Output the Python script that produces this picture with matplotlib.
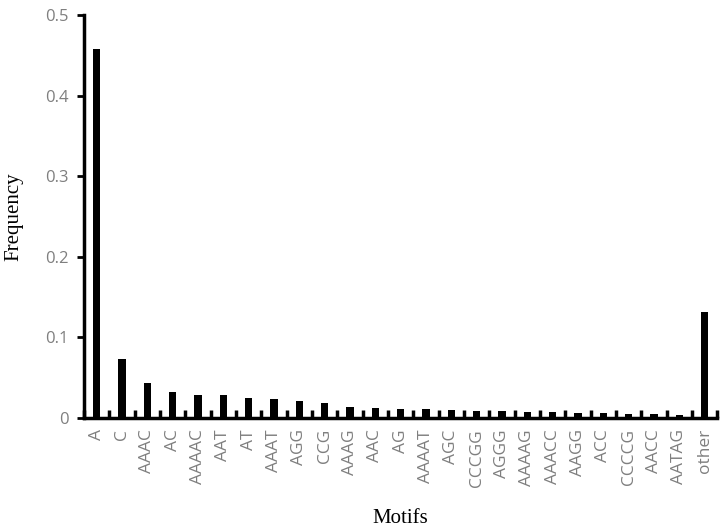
import matplotlib
matplotlib.use("Agg")
import matplotlib.pyplot as plt
import numpy as np

motifs = ["A", "C", "AAAC", "AC", "AAAAC", "AAT", "AT", "AAAT", "AGG", "CCG",
          "AAAG", "AAC", "AG", "AAAAT", "AGC", "CCCGG", "AGGG", "AAAAG", "AAACC",
          "AAGG", "ACC", "CCCCG", "AACC", "AATAG", "other"]
frequency = [0.458, 0.073, 0.043, 0.032, 0.029, 0.028, 0.025, 0.0236, 0.021, 0.019,
             0.0133, 0.012, 0.0115, 0.011, 0.0096, 0.0087, 0.0085, 0.008, 0.0075,
             0.006, 0.0058, 0.0055, 0.0045, 0.0043, 0.131]
yticks = [0, 0.1, 0.2, 0.3, 0.4, 0.5]
ytick_labels = ["0", "0.1", "0.2", "0.3", "0.4", "0.5"]

fig = plt.figure(figsize=(7.28, 5.28), dpi=100)
ax = fig.add_axes([0.1154, 0.2083, 0.870, 0.7633])

x = np.arange(len(motifs))
ax.bar(x, frequency, width=0.28, color="black")

ax.set_xlim(-0.5, len(motifs) - 0.5)
ax.set_ylim(0, 0.5)

ax.set_xticks(x)
ax.set_xticklabels(motifs, rotation=90, fontsize=12.5, color="#7f7f7f", family="Open Sans")
ax.set_xticks(np.arange(len(motifs) + 1) - 0.5, minor=True)
ax.tick_params(axis="x", which="major", length=0, pad=8)
ax.tick_params(axis="x", which="minor", direction="in", length=6, width=2.5, color="black")

ax.set_yticks(yticks)
ax.set_yticklabels(ytick_labels, fontsize=12, color="#7f7f7f", family="Open Sans")
ax.tick_params(axis="y", direction="out", length=5, width=2, color="black", pad=6)

for s in ["top", "right"]:
    ax.spines[s].set_visible(False)
for s in ["left", "bottom"]:
    ax.spines[s].set_linewidth(2.5)
    ax.spines[s].set_color("black")

ax.set_ylabel("Frequency", fontsize=15, family="Liberation Serif", labelpad=16)
ax.set_xlabel("Motifs", fontsize=15, family="Liberation Serif", labelpad=16)

fig.savefig("out.png", dpi=100)
